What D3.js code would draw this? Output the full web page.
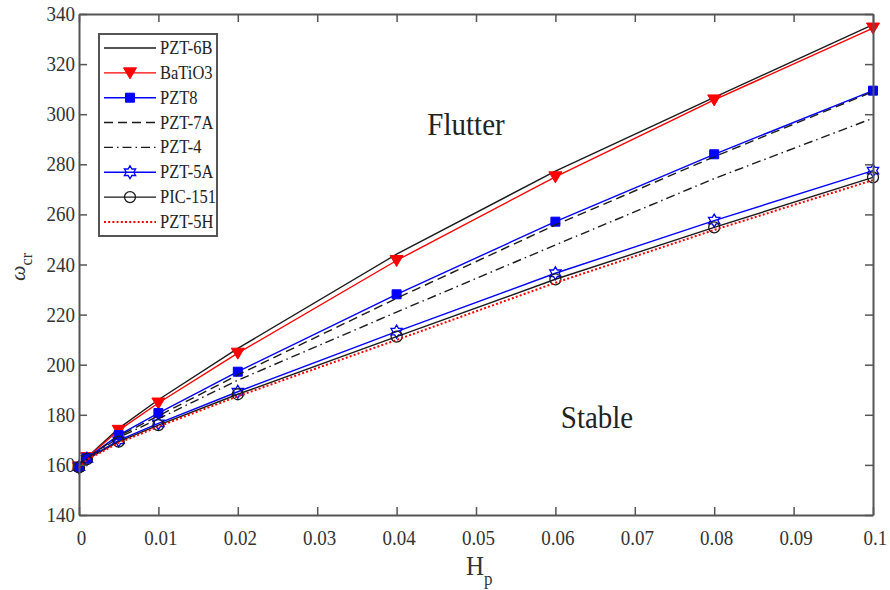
<!DOCTYPE html>
<html>
<head>
<meta charset="utf-8">
<script src="https://cdn.jsdelivr.net/npm/d3@7"></script>
<style>
  html, body { margin: 0; padding: 0; background: #fff; }
  svg { display: block; }
  text { font-family: "Liberation Serif", "Times New Roman", serif; }
</style>
</head>
<body>
<svg id="chart" width="890" height="590"></svg>
<script>
// ---------------- data ----------------
const hp = [0, 0.001, 0.005, 0.01, 0.02, 0.04, 0.06, 0.08, 0.1];
const pzt6b  = [159.3, 163.0, 174.6, 186.0, 206.5, 244.1, 277.3, 306.7, 335.8];
const batio3 = [159.2, 162.9, 173.8, 184.7, 204.6, 241.6, 275.0, 305.7, 334.4];
const pzt8   = [159.2, 162.7, 171.9, 180.7, 197.2, 228.1, 257.1, 284.0, 309.4];
const pzt7a  = [159.1, 162.6, 171.5, 179.6, 195.9, 226.5, 255.8, 283.0, 309.0];
const pzt4   = [159.0, 162.5, 170.9, 178.4, 193.8, 221.0, 247.8, 274.3, 298.4];
const pzt5a  = [159.1, 162.4, 169.8, 176.6, 189.2, 213.2, 236.5, 257.5, 277.5];
const pic151 = [159.0, 162.3, 169.3, 175.9, 188.2, 211.2, 234.1, 254.8, 274.8];
const pzt5h  = [158.8, 162.1, 168.8, 175.3, 187.4, 209.9, 232.7, 253.8, 273.7];
const seriesNames = ["PZT-6B", "BaTiO3", "PZT8", "PZT-7A", "PZT-4", "PZT-5A", "PIC-151", "PZT-5H"];
const xTickValues = [0, 0.01, 0.02, 0.03, 0.04, 0.05, 0.06, 0.07, 0.08, 0.09, 0.1];
const xTickLabels = ["0", "0.01", "0.02", "0.03", "0.04", "0.05", "0.06", "0.07", "0.08", "0.09", "0.1"];
const yTickValues = [140, 160, 180, 200, 220, 240, 260, 280, 300, 320, 340];
const regionLabels = ["Flutter", "Stable"];

// ---------------- styles ----------------
const styles = [
  { values: pzt6b,  color: "#1a1a1a", dash: null,        marker: null,       width: 1.4 },
  { values: batio3, color: "#ff0000", dash: null,        marker: "triangle", width: 1.4 },
  { values: pzt8,   color: "#0000ff", dash: null,        marker: "square",   width: 1.4 },
  { values: pzt7a,  color: "#1a1a1a", dash: "9,5",       marker: null,       width: 1.4 },
  { values: pzt4,   color: "#1a1a1a", dash: "9,4,1.5,4", marker: null,       width: 1.4 },
  { values: pzt5a,  color: "#0000ff", dash: null,        marker: "hexagram", width: 1.4 },
  { values: pic151, color: "#1a1a1a", dash: null,        marker: "circle",   width: 1.4 },
  { values: pzt5h,  color: "#ff0000", dash: "2,2.2",     marker: null,       width: 2 }
];

const pLeft = 79, pRight = 873, pTop = 14, pBottom = 515;
const axisColor = "#555555";
const textColor = "#333333";

const svg = d3.select("#chart");
const x = d3.scaleLinear().domain([0, 0.1]).range([pLeft, pRight]);
const y = d3.scaleLinear().domain([140, 340]).range([pBottom, pTop]);

// ---------------- lines ----------------
const line = d3.line().x(d => x(d[0])).y(d => y(d[1]));
const plot = svg.append("g");

function markerPath(type) {
  if (type === "triangle") {
    return "M-6.5,-5 L6.5,-5 L0,6 Z";
  }
  if (type === "square") {
    return "M-4.5,-4.5 L4.5,-4.5 L4.5,4.5 L-4.5,4.5 Z";
  }
  if (type === "hexagram") {
    const R = 6.5, r = R / Math.sqrt(3);
    let p = "";
    for (let k = 0; k < 12; k++) {
      const a = (-90 + k * 30) * Math.PI / 180;
      const rr = k % 2 === 0 ? R : r;
      p += (k === 0 ? "M" : "L") + (rr * Math.cos(a)).toFixed(2) + "," + (rr * Math.sin(a)).toFixed(2);
    }
    return p + "Z";
  }
  return null;
}

function drawMarker(g, type, color, cx, cy) {
  if (type === "circle") {
    g.append("circle").attr("cx", cx).attr("cy", cy).attr("r", 5.5)
      .attr("fill", "none").attr("stroke", color).attr("stroke-width", 1.3);
  } else if (type === "triangle" || type === "square") {
    g.append("path").attr("d", markerPath(type)).attr("transform", `translate(${cx},${cy})`)
      .attr("fill", color).attr("stroke", color).attr("stroke-width", 1);
  } else if (type === "hexagram") {
    g.append("path").attr("d", markerPath(type)).attr("transform", `translate(${cx},${cy})`)
      .attr("fill", "none").attr("stroke", color).attr("stroke-width", 1.3);
  }
}

styles.forEach(s => {
  const pts = hp.map((h, i) => [h, s.values[i]]);
  const g = plot.append("g");
  g.append("path").attr("d", line(pts)).attr("fill", "none")
    .attr("stroke", s.color).attr("stroke-width", s.width)
    .attr("stroke-dasharray", s.dash);
  if (s.marker) {
    pts.forEach(p => drawMarker(g, s.marker, s.color, x(p[0]), y(p[1])));
  }
});

// ---------------- axes ----------------
function styleAxis(g) {
  g.attr("font-family", null).attr("font-size", null);
  g.select(".domain").attr("stroke", axisColor).attr("stroke-width", 2);
  g.selectAll(".tick line").attr("stroke", axisColor).attr("stroke-width", 1.5);
}
const xb = svg.append("g").attr("transform", `translate(0,${pBottom})`)
  .call(d3.axisBottom(x).tickValues(xTickValues).tickSize(-8).tickSizeOuter(0).tickFormat((d, i) => xTickLabels[i]));
const xt = svg.append("g").attr("transform", `translate(0,${pTop})`)
  .call(d3.axisTop(x).tickValues(xTickValues).tickSize(-8).tickSizeOuter(0).tickFormat(""));
const yl = svg.append("g").attr("transform", `translate(${pLeft},0)`)
  .call(d3.axisLeft(y).tickValues(yTickValues).tickSize(-8).tickSizeOuter(0));
const yr = svg.append("g").attr("transform", `translate(${pRight},0)`)
  .call(d3.axisRight(y).tickValues(yTickValues).tickSize(-8).tickSizeOuter(0).tickFormat(""));
[xb, xt, yl, yr].forEach(styleAxis);

xb.selectAll(".tick text")
  .attr("y", null).attr("dy", null)
  .attr("transform", "translate(2,30) scale(1,1.08)")
  .attr("fill", textColor).style("font-size", "19px")
  .attr("text-anchor", "middle");
yl.selectAll(".tick text")
  .attr("x", null).attr("dy", null)
  .attr("transform", "translate(-4,6.5) scale(1,1.05)")
  .attr("fill", textColor).style("font-size", "19px")
  .attr("text-anchor", "end");

// ---------------- axis labels ----------------
const xlab = svg.append("text")
  .attr("transform", `translate(466,575) scale(1,1.1)`)
  .attr("text-anchor", "start").attr("fill", textColor).style("font-size", "25px");
xlab.append("tspan").text("H");
xlab.append("tspan").attr("dy", 9).style("font-size", "17px").text("p");

const ylab = svg.append("text")
  .attr("transform", `translate(25,267) rotate(-90)`)
  .attr("text-anchor", "middle").attr("fill", textColor).style("font-size", "22px");
ylab.append("tspan").style("font-style", "italic").text("\u03C9");
ylab.append("tspan").attr("dy", 7).style("font-size", "16px").text("cr");

// ---------------- region labels ----------------
svg.append("text").attr("transform", "translate(466,135) scale(1,1.12)")
  .attr("text-anchor", "middle").attr("fill", "#222").style("font-size", "29px").text(regionLabels[0]);
svg.append("text").attr("transform", "translate(597,428) scale(1,1.12)")
  .attr("text-anchor", "middle").attr("fill", "#222").style("font-size", "29px").text(regionLabels[1]);

// ---------------- legend ----------------
const lg = svg.append("g");
lg.append("rect").attr("x", 99).attr("y", 34).attr("width", 118).attr("height", 202)
  .attr("fill", "#fff").attr("stroke", axisColor).attr("stroke-width", 2);
styles.forEach((s, i) => {
  const ly = 48 + i * 24.85;
  lg.append("line").attr("x1", 104).attr("x2", 156).attr("y1", ly).attr("y2", ly)
    .attr("stroke", s.color).attr("stroke-width", s.width).attr("stroke-dasharray", s.dash);
  if (s.marker) drawMarker(lg, s.marker, s.color, 130, ly);
  lg.append("text").attr("transform", `translate(160,${ly + 6}) scale(1,1.18)`)
    .attr("fill", "#222").style("font-size", "16.5px").text(seriesNames[i]);
});
</script>
</body>
</html>
